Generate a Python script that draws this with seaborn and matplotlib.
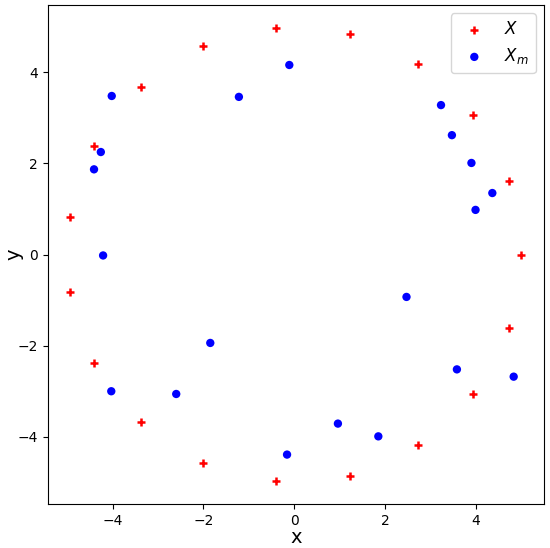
import pandas as pd
import seaborn as sns
import matplotlib.pyplot as plt

# -------- DATA --------
x_true = [5.00, 4.73, 3.94, 2.73, 1.23, -0.41, -2.01, -3.38, -4.40, -4.93,
          -4.93, -4.40, -3.38, -2.01, -0.41, 1.23, 2.73, 3.94, 4.73]
y_true = [0.00, 1.62, 3.07, 4.19, 4.85, 4.98, 4.58, 3.68, 2.38, 0.82,
          -0.82, -2.38, -3.68, -4.58, -4.98, -4.85, -4.19, -3.07, -1.62]

x_meas = [-4.02, -1.22, -4.26, -4.41, -4.21, -0.11, 3.23, 3.47, 3.90, 4.36,
          3.99, -1.85, -4.03, -2.60, 2.47, 3.58, 4.83, 0.96, 1.85, -0.16]
y_meas = [3.48, 3.46, 2.25, 1.87, -0.02, 4.16, 3.28, 2.62, 2.01, 1.35,
          0.98, -1.94, -3.00, -3.06, -0.93, -2.52, -2.68, -3.71, -3.99, -4.39]

df_true = pd.DataFrame({"x": x_true, "y": y_true})
df_meas = pd.DataFrame({"x": x_meas, "y": y_meas})

# -------- PLOT --------
fig, ax = plt.subplots(figsize=(5.5, 5.48), dpi=100)
fig.subplots_adjust(left=0.087, right=0.989, top=0.991, bottom=0.080)

sns.scatterplot(data=df_true, x="x", y="y", ax=ax, color="red", marker="+",
                s=30, linewidth=1.8, label="$X$")
sns.scatterplot(data=df_meas, x="x", y="y", ax=ax, color="blue", marker="o",
                s=36, edgecolor="none", label="$X_m$")

ax.set_xlabel("x", fontsize=14, labelpad=0)
ax.set_ylabel("y", fontsize=14, labelpad=-4)
ax.set_xticks([-4, -2, 0, 2, 4])
ax.set_yticks([-4, -2, 0, 2, 4])
ax.legend(loc="upper right", fontsize=12)

plt.savefig("out.png", dpi=100)
plt.close()
